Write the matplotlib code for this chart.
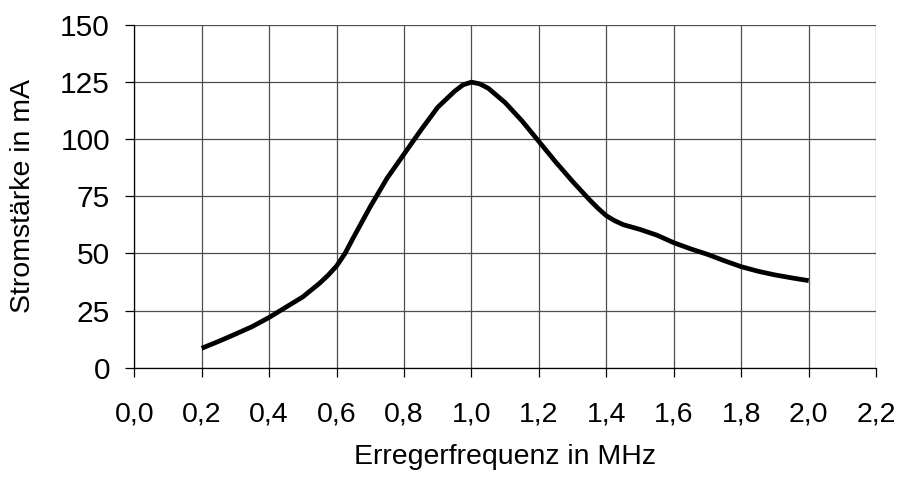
import matplotlib.pyplot as plt

plt.rcParams['font.family'] = ['Liberation Sans', 'DejaVu Sans']

frequenz = [0.2, 0.25, 0.3, 0.35, 0.4, 0.45, 0.5, 0.55, 0.575, 0.6, 0.625, 0.65,
            0.7, 0.75, 0.8, 0.85, 0.9, 0.95, 0.975, 1.0, 1.025, 1.05, 1.1, 1.15,
            1.2, 1.25, 1.3, 1.35, 1.375, 1.4, 1.425, 1.45, 1.5, 1.55, 1.6, 1.65,
            1.7, 1.75, 1.8, 1.85, 1.9, 1.95, 2.0]
strom = [8.5, 11.5, 14.7, 18, 22, 26.5, 31, 37, 40.5, 44.5, 50, 57,
         70.5, 83, 93.5, 104, 114, 121, 123.8, 125, 124.2, 122.3, 116, 108,
         99, 90, 81.5, 73.5, 69.8, 66.5, 64.3, 62.6, 60.5, 58, 54.7, 52,
         49.6, 46.8, 44.2, 42.2, 40.6, 39.3, 38.1]

x_ticks = [0.0, 0.2, 0.4, 0.6, 0.8, 1.0, 1.2, 1.4, 1.6, 1.8, 2.0, 2.2]
y_ticks = [0, 25, 50, 75, 100, 125, 150]

fig = plt.figure(figsize=(9.01, 4.79), dpi=100)
ax = fig.add_axes([0.149, 0.2324, 0.8234, 0.7154])

ax.plot(frequenz, strom, color='black', linewidth=3.4,
        solid_joinstyle='round', solid_capstyle='butt', zorder=3)

ax.set_xlim(0, 2.2)
ax.set_ylim(0, 150)
ax.set_xticks(x_ticks)
ax.set_xticklabels([f"{v:.1f}".replace('.', ',') for v in x_ticks])
ax.set_yticks(y_ticks)

ax.grid(True, color='0.3', linewidth=0.9)
ax.set_axisbelow(True)

for side in ['top', 'right']:
    ax.spines[side].set_visible(False)
for side in ['left', 'bottom']:
    ax.spines[side].set_linewidth(0.9)

ax.tick_params(axis='both', direction='out', length=6.5, width=0.9)
ax.tick_params(axis='x', pad=18, labelsize=20.5)
ax.tick_params(axis='y', pad=11, labelsize=21.5)

ax.set_xlabel('Erregerfrequenz in MHz', fontsize=20.5, labelpad=12)
ax.set_ylabel('Stromstärke in mA', fontsize=20.5, labelpad=17)

fig.savefig('out.png', dpi=100)
